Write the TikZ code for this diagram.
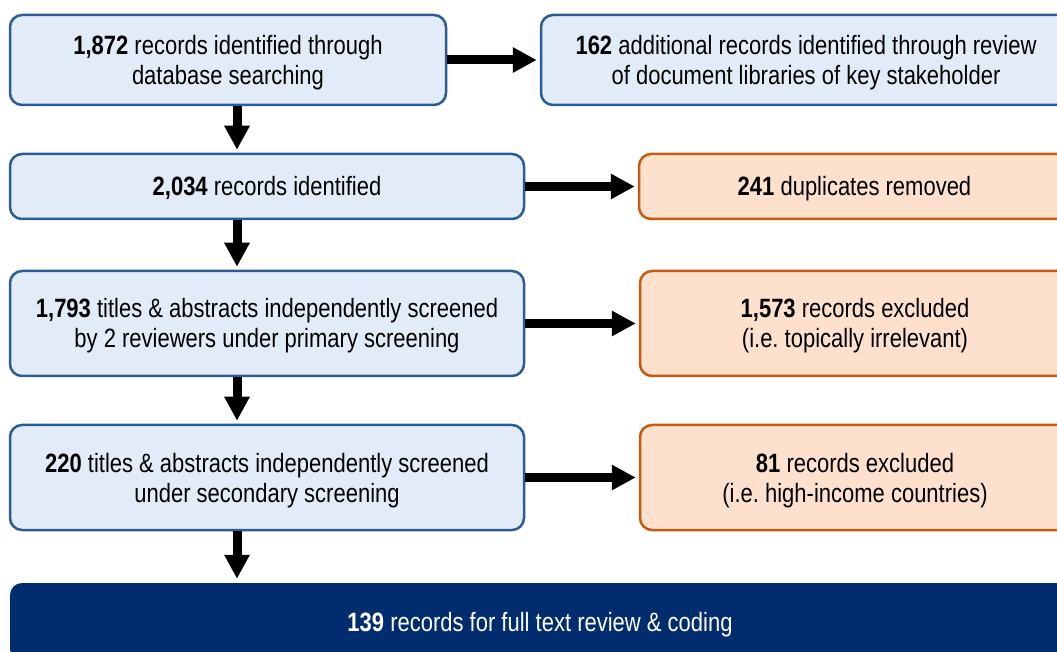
\documentclass[tikz,border=0pt]{standalone}
\usepackage{fontspec}
\setmainfont{Liberation Sans}[FakeStretch=0.83]
\usetikzlibrary{arrows.meta}
\frenchspacing
\definecolor{bluefill}{HTML}{E2ECF8}
\definecolor{blueline}{HTML}{2B5C94}
\definecolor{orfill}{HTML}{FDE1CD}
\definecolor{orline}{HTML}{C55A11}
\definecolor{darkbox}{HTML}{012D6F}
\tikzset{
  basebox/.style={rectangle, rounded corners=12pt, line width=2.5pt, align=center,
    inner sep=0pt, font=\fontsize{26.5}{30}\selectfont\frenchspacing},
  bluebox/.style={basebox, draw=blueline, fill=bluefill, text=black},
  orbox/.style={basebox, draw=orline, fill=orfill, text=black},
  finalbox/.style={basebox, draw=none, fill=darkbox, text=white},
  oneline/.style={text height=19pt, text depth=0pt},
  twoline/.style={text height=49pt, text depth=0pt},
  flowarrow/.style={line width=9pt, -{Triangle[width=24pt,length=24pt]}, shorten >=3pt, draw=black}
}
\begin{document}
\begin{tikzpicture}[x=1pt,y=1pt]
\useasboundingbox (0,0) rectangle (1057,651);
\clip (0,0) rectangle (1057,651);
\node[bluebox, twoline, minimum width=436pt, minimum height=90pt] (b1) at (228,591)
  {\textbf{1,872} records identified through\\database searching};
\node[bluebox, twoline, minimum width=530pt, minimum height=90pt] (b2) at (806,591)
  {\textbf{162} additional records identified through review\\of document libraries of key stakeholder};
\node[bluebox, oneline, minimum width=514pt, minimum height=65pt] (b3) at (267,464.5)
  {\textbf{2,034} records identified};
\node[orbox, oneline, minimum width=431pt, minimum height=65pt] (b4) at (854.5,464.5)
  {\textbf{241} duplicates removed};
\node[bluebox, twoline, minimum width=514pt, minimum height=105pt] (b5) at (267,327.5)
  {\textbf{1,793} titles \& abstracts independently screened\\by 2 reviewers under primary screening};
\node[orbox, twoline, minimum width=430pt, minimum height=105pt] (b6) at (855,327.5)
  {\textbf{1,573} records excluded\\(i.e. topically irrelevant)};
\node[bluebox, twoline, minimum width=514pt, minimum height=105pt] (b7) at (267,173.5)
  {\textbf{220} titles \& abstracts independently screened\\under secondary screening};
\node[orbox, twoline, minimum width=430pt, minimum height=105pt] (b8) at (855,173.5)
  {\textbf{81} records excluded\\(i.e. high-income countries)};
\node[finalbox, oneline, minimum width=1060pt, minimum height=78pt] (b9) at (540,29)
  {\textbf{139} records for full text review \& coding};
\coordinate (ax) at (237,0);
\draw[flowarrow] (b1.east) -- (b2.west);
\draw[flowarrow] (b3.east) -- (b4.west);
\draw[flowarrow] (b5.east) -- (b6.west);
\draw[flowarrow] (b7.east) -- (b8.west);
\draw[flowarrow] (b1.south -| ax) -- (b3.north -| ax);
\draw[flowarrow] (b3.south -| ax) -- (b5.north -| ax);
\draw[flowarrow] (b5.south -| ax) -- (b7.north -| ax);
\draw[flowarrow] (b7.south -| ax) -- (b9.north -| ax);
\end{tikzpicture}
\end{document}
